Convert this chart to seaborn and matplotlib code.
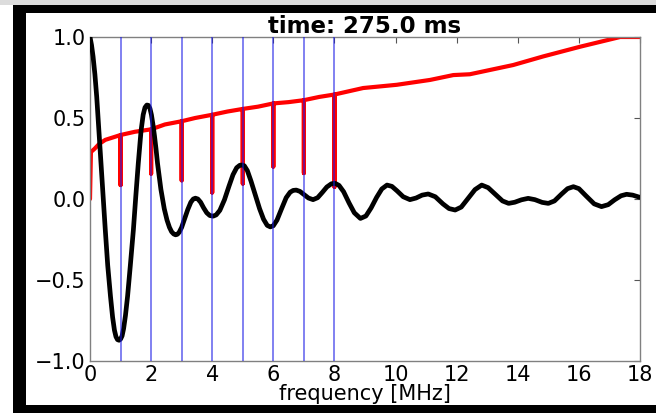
import numpy as np
import pandas as pd
import matplotlib
matplotlib.use("Agg")
import matplotlib.pyplot as plt
from matplotlib.patches import Rectangle
import seaborn as sns

# Response curve (black): frequency in MHz and amplitude
resp_freq = [0.0, 0.05, 0.1, 0.16, 0.22, 0.29, 0.36, 0.43, 0.5, 0.58, 0.67,
             0.74, 0.8, 0.85, 0.9, 0.95, 1.0, 1.05, 1.1, 1.16, 1.23, 1.32,
             1.42, 1.5, 1.58, 1.67, 1.74, 1.8, 1.86, 1.91, 1.96, 2.01, 2.06,
             2.11, 2.16, 2.21, 2.32, 2.43, 2.52, 2.6, 2.67, 2.74, 2.8, 2.86,
             2.92, 3.0, 3.1, 3.2, 3.3, 3.38, 3.45, 3.53, 3.62, 3.72, 3.82, 3.92,
             4.03, 4.13, 4.25, 4.4, 4.55, 4.68, 4.8, 4.9, 4.97, 5.05, 5.15,
             5.27, 5.4, 5.55, 5.68, 5.8, 5.9, 6.0, 6.12, 6.27, 6.42, 6.55, 6.65,
             6.75, 6.87, 7.0, 7.15, 7.3, 7.45, 7.6, 7.75, 7.9, 8.02, 8.15, 8.3,
             8.48, 8.65, 8.85, 9.03, 9.2, 9.38, 9.55, 9.72, 9.88, 10.05, 10.25,
             10.47, 10.67, 10.87, 11.07, 11.3, 11.55, 11.75, 11.95, 12.15,
             12.38, 12.6, 12.82, 13.03, 13.27, 13.5, 13.7, 13.9, 14.12, 14.34,
             14.56, 14.8, 15.0, 15.2, 15.43, 15.63, 15.82, 16.0, 16.23, 16.5,
             16.74, 16.96, 17.17, 17.38, 17.56, 17.76, 18.0]
resp_amp = [1.0, 0.95, 0.88, 0.77, 0.63, 0.43, 0.22, 0.01, -0.19, -0.41,
            -0.60, -0.73, -0.81, -0.85, -0.868, -0.872, -0.865, -0.845, -0.80,
            -0.72, -0.60, -0.41, -0.19, 0.02, 0.22, 0.42, 0.52, 0.565, 0.58,
            0.578, 0.56, 0.52, 0.46, 0.39, 0.31, 0.22, 0.06, -0.06, -0.13,
            -0.175, -0.202, -0.216, -0.221, -0.218, -0.205, -0.175, -0.12,
            -0.065, -0.02, 0.0, 0.005, 0.0, -0.02, -0.055, -0.085, -0.102,
            -0.106, -0.098, -0.07, -0.005, 0.08, 0.15, 0.193, 0.208, 0.21,
            0.205, 0.175, 0.11, 0.03, -0.06, -0.125, -0.163, -0.172, -0.165,
            -0.13, -0.06, 0.008, 0.042, 0.053, 0.055, 0.047, 0.028, 0.006,
            -0.004, 0.008, 0.04, 0.074, 0.094, 0.097, 0.084, 0.045, -0.025,
            -0.085, -0.12, -0.105, -0.055, 0.01, 0.062, 0.086, 0.078, 0.05,
            0.014, -0.004, 0.006, 0.024, 0.031, 0.014, -0.03, -0.059, -0.068,
            -0.05, 0.005, 0.058, 0.086, 0.07, 0.028, -0.012, -0.027, -0.02,
            -0.005, 0.004, -0.004, -0.021, -0.027, -0.012, 0.03, 0.064, 0.076,
            0.064, 0.02, -0.03, -0.047, -0.035, -0.005, 0.02, 0.029, 0.024,
            0.01]

# Envelope curve (red)
env_freq = [0.0, 0.03, 0.15, 0.3, 0.5, 0.75, 1.0, 1.47, 2.0, 2.45, 3.0, 3.44,
            4.0, 4.5, 5.0, 5.5, 6.0, 6.5, 7.0, 7.5, 8.0, 8.94, 10.04, 11.13,
            11.89, 12.43, 13.85, 14.83, 16.04, 17.35, 18.0]
env_amp = [0.0, 0.29, 0.31, 0.34, 0.365, 0.38, 0.395, 0.415, 0.43, 0.46, 0.48,
           0.50, 0.52, 0.54, 0.556, 0.57, 0.59, 0.598, 0.61, 0.63, 0.645, 0.685,
           0.705, 0.735, 0.765, 0.77, 0.827, 0.88, 0.94, 1.0, 1.0]

# Harmonic positions (blue lines) and the dip of the envelope at each one
harmonics = [1, 2, 3, 4, 5, 6, 7, 8]
dip_amp = [0.086, 0.156, 0.115, 0.04, 0.095, 0.2, 0.16, 0.075]

title_text = "time: 275.0 ms"
xlabel_text = "frequency [MHz]"
xticks = [0, 2, 4, 6, 8, 10, 12, 14, 16, 18]
yticks = [-1.0, -0.5, 0.0, 0.5, 1.0]

# Envelope polyline with a drop to the dip value at each harmonic
dips = dict(zip(harmonics, dip_amp))
ex, ey = [], []
for f, a in zip(env_freq, env_amp):
    ex.append(f)
    ey.append(a)
    if f in dips:
        ex += [f, f]
        ey += [dips[f], a]
env_df = pd.DataFrame({"freq": ex, "amp": ey})
resp_df = pd.DataFrame({"freq": resp_freq, "amp": resp_amp})

sns.set_style("white")
plt.rcParams["font.family"] = ["DejaVu Sans"]
plt.rcParams["text.color"] = "black"
plt.rcParams["xtick.color"] = "black"
plt.rcParams["ytick.color"] = "black"
plt.rcParams["axes.labelcolor"] = "black"

fig = plt.figure(figsize=(6.56, 4.13), dpi=100)
fig.patch.set_facecolor("white")

# dark frame around the plot area
fig.patches.append(Rectangle((0, 1 - 5 / 413), 1, 5 / 413, transform=fig.transFigure,
                             facecolor="#dcdcdc", edgecolor="none", zorder=-3))
fig.patches.append(Rectangle((13 / 656, 0), 1 - 13 / 656, 1 - 5 / 413,
                             transform=fig.transFigure, facecolor="black",
                             edgecolor="none", zorder=-2))
fig.patches.append(Rectangle((26 / 656, 8 / 413), 1 - 26 / 656, 1 - 13 / 413 - 8 / 413,
                             transform=fig.transFigure, facecolor="white",
                             edgecolor="none", zorder=-1))

ax = fig.add_axes([90 / 656, 52 / 413, 550 / 656, 324 / 413])
ax.set_facecolor("white")

sns.lineplot(data=env_df, x="freq", y="amp", sort=False, estimator=None,
             color="#ff0000", linewidth=3.0, ax=ax, zorder=2)
sns.lineplot(data=resp_df, x="freq", y="amp", sort=False, estimator=None,
             color="black", linewidth=3.4, ax=ax, zorder=3)
for line in ax.get_lines():
    line.set_solid_joinstyle("round")
    line.set_solid_capstyle("round")
for h in harmonics:
    ax.axvline(h, color="#1a1ae6", linewidth=1.1, alpha=0.7, zorder=5)

ax.set_xlim(0, 18)
ax.set_ylim(-1.0, 1.0)
ax.set_xticks(xticks)
ax.set_yticks(yticks)
ax.set_xticklabels([str(t) for t in xticks])
ax.set_yticklabels([f"{t:.1f}".replace("-", "\u2212") for t in yticks])
ax.tick_params(direction="in", length=4, width=0.8, color="#555555",
               labelcolor="black", top=True, right=True, labelsize=15, pad=3)
for s in ax.spines.values():
    s.set_color("#808080")
    s.set_linewidth(1.0)
ax.set_xlabel(xlabel_text, fontsize=15, labelpad=-1)
ax.set_ylabel("")
ax.set_title(title_text, fontsize=16.5, fontweight="bold", pad=3)

fig.savefig("out.png", dpi=100, facecolor=fig.get_facecolor())
